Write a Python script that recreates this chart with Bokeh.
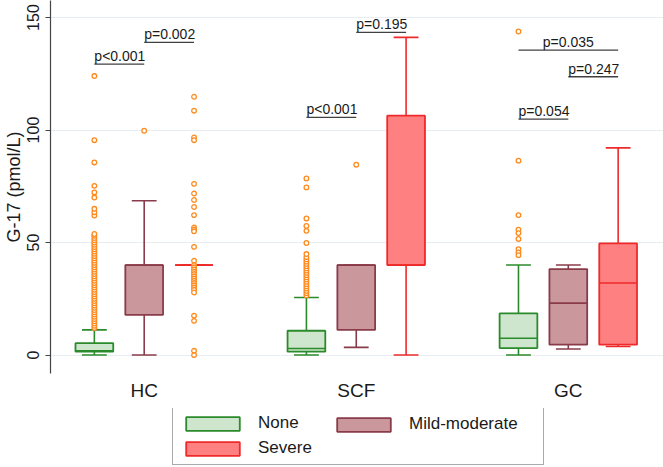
from bokeh.plotting import figure
from bokeh.layouts import column
from bokeh.models import Range1d, FixedTicker, Legend, LegendItem, ColumnDataSource
from bokeh.embed import file_html
from bokeh.resources import INLINE
from bokeh.core.properties import value

# ---------------- data ----------------
groups = ["HC", "SCF", "GC"]
levels = ["None", "Mild-moderate", "Severe"]

# box statistics per severity level, one value per group (HC, SCF, GC)
none_q1 = [1.5, 1.5, 3.1]
none_med = [1.9, 2.9, 7.5]
none_q3 = [5.3, 10.8, 18.5]
none_lo = [0.0, 0.0, 0.0]
none_hi = [11.2, 25.6, 40.0]

mild_q1 = [17.9, 11.2, 4.6]
mild_med = [40.0, 40.0, 23.1]
mild_q3 = [40.0, 40.0, 38.2]
mild_lo = [0.0, 3.4, 2.7]
mild_hi = [68.6, 40.0, 40.0]

sev_q1 = [40.0, 40.0, 4.6]
sev_med = [40.0, 40.0, 32.0]
sev_q3 = [40.0, 106.4, 49.6]
sev_lo = [40.0, 0.0, 3.8]
sev_hi = [40.0, 141.2, 92.1]

# outliers
hc_none_out = [12, 13, 14, 15, 16, 17, 18, 19, 20, 21, 22, 23, 24, 25, 26, 27, 28, 29, 30,
               31, 32, 33, 34, 35, 36, 37, 38, 39, 40, 41, 42, 43, 44, 45, 46, 47, 48, 49,
               50, 51, 52, 53, 53.8, 62, 63.5, 65, 70, 72.3, 75.2, 85.6, 95.5, 124]
hc_mild_out = [99.7]
hc_sev_out = [114.8, 108.6, 96.7, 95.5, 76.1, 71.8, 68.9, 65.8, 62.2, 56.7, 55.8, 55.0,
              48.1, 41.9, 40, 39, 38, 37, 36, 35, 34, 33, 32, 31, 30, 29, 27.8,
              17.5, 15.2, 1.9, 0.0]
scf_none_out = [26.5, 27.5, 28.5, 29.5, 30.5, 31.5, 32.5, 33.5, 34.5, 35.5, 36.5, 37.5,
                38.5, 39.5, 40.5, 41.5, 42.5, 43.5, 44.9, 49.8, 55.2, 57.4, 60.7, 74.5, 78.5]
scf_mild_out = [84.6]
gc_none_out = [143.8, 86.4, 62.2, 55.7, 54.2, 51.6, 47.1, 45.6, 44.4]

# p-value annotations
p_labels = ["p<0.001", "p=0.002", "p<0.001", "p=0.195", "p=0.054", "p=0.247", "p=0.035"]
p_group = [0, 0, 1, 1, 2, 2, 2]
p_from = [0, 1, 0, 1, 0, 1, 0]
p_to = [1, 2, 1, 2, 1, 2, 2]
p_y = [129.3, 139.0, 105.6, 143.4, 104.9, 123.7, 135.5]
p_align = ["left", "left", "left", "left", "left", "left", "center"]

# ---------------- styling ----------------
FONT = "Liberation Sans"
fills = ["#cde6cd", "#c9979c", "#ff8080"]
lines = ["#2b8a2b", "#8a3b4a", "#ee2a2a"]
OUT_COLOR = "#ff8a1e"
offsets = [-0.235, 0.0, 0.235]
BW = 0.178
CW = 0.117

stats = [
    (none_q1, none_med, none_q3, none_lo, none_hi),
    (mild_q1, mild_med, mild_q3, mild_lo, mild_hi),
    (sev_q1, sev_med, sev_q3, sev_lo, sev_hi),
]
outliers = {
    (0, 0): hc_none_out, (0, 1): hc_mild_out, (0, 2): hc_sev_out,
    (1, 0): scf_none_out, (1, 1): scf_mild_out, (2, 0): gc_none_out,
}

W = 663
H_MAIN = 408
H_LEG = 59
LEFT = 48
BOTTOM = 35
x0 = (LEFT - 142) / 212.75
x1 = (W - 142) / 212.75
y0 = -8.2
y1 = y0 + (H_MAIN - BOTTOM) / 2.25

p = figure(width=W, height=H_MAIN, output_backend="svg", toolbar_location=None,
           x_range=Range1d(x0, x1), y_range=Range1d(y0, y1),
           min_border_left=LEFT, min_border_right=0, min_border_top=0, min_border_bottom=BOTTOM)
p.outline_line_color = None
p.background_fill_color = "white"
p.border_fill_color = "white"

for li, (q1, med, q3, lo, hi) in enumerate(stats):
    xs = [g + offsets[li] for g in range(len(groups))]
    src = ColumnDataSource(dict(
        x=xs, xl=[x - BW / 2 for x in xs], xr=[x + BW / 2 for x in xs],
        cl=[x - CW / 2 for x in xs], cr=[x + CW / 2 for x in xs],
        q1=q1, med=med, q3=q3, lo=lo, hi=hi))
    p.segment(x0="x", y0="q3", x1="x", y1="hi", source=src, line_color=lines[li], line_width=1.6)
    p.segment(x0="x", y0="q1", x1="x", y1="lo", source=src, line_color=lines[li], line_width=1.6)
    p.vbar(x="x", width=BW, top="q3", bottom="q1", source=src,
           fill_color=fills[li], line_color=lines[li], line_width=1.8)
    p.segment(x0="xl", y0="med", x1="xr", y1="med", source=src, line_color=lines[li], line_width=1.6)
    p.segment(x0="cl", y0="hi", x1="cr", y1="hi", source=src, line_color=lines[li], line_width=1.6)
    p.segment(x0="cl", y0="lo", x1="cr", y1="lo", source=src, line_color=lines[li], line_width=1.6)

for (g, li), vals in outliers.items():
    p.scatter(x=[g + offsets[li]] * len(vals), y=vals, marker="circle", size=4.6,
              fill_color="white", line_color=OUT_COLOR, line_width=1.3)

# p-value lines and labels
seg_x0 = [g + offsets[a] for g, a in zip(p_group, p_from)]
seg_x1 = [g + offsets[b] for g, b in zip(p_group, p_to)]
txt_x = [(a + b) / 2 if al == "center" else a for a, b, al in zip(seg_x0, seg_x1, p_align)]
psrc = ColumnDataSource(dict(x0=seg_x0, x1=seg_x1, y=p_y, tx=txt_x, t=p_labels, al=p_align))
p.segment(x0="x0", y0="y", x1="x1", y1="y", source=psrc, line_color="#404040", line_width=1.3)
p.text(x="tx", y="y", text="t", source=psrc, text_align="al", text_baseline="bottom",
       text_font=value(FONT), text_font_size="14px", text_color="#1a1a1a")

# axes
p.yaxis.ticker = FixedTicker(ticks=[0, 50, 100, 150])
p.yaxis.axis_label = "G-17 (pmol/L)"
p.yaxis.axis_label_text_font = FONT
p.yaxis.axis_label_text_font_size = "18px"
p.yaxis.axis_label_text_font_style = "normal"
p.yaxis.axis_label_text_color = "#1a1a1a"
p.yaxis.axis_label_standoff = 1
p.yaxis.major_label_orientation = "vertical"
p.yaxis.major_label_text_font = FONT
p.yaxis.major_label_text_font_size = "16px"
p.yaxis.major_label_text_color = "#1a1a1a"
p.yaxis.major_label_standoff = 6
p.yaxis.major_tick_out = 5
p.yaxis.major_tick_in = 0
p.yaxis.minor_tick_line_color = None
p.yaxis.axis_line_color = "#444444"
p.yaxis.major_tick_line_color = "#444444"
p.yaxis.axis_line_width = 1.2

p.xaxis.ticker = FixedTicker(ticks=[0, 1, 2])
p.xaxis.major_label_overrides = {0: "HC", 1: "SCF", 2: "GC"}
p.xaxis.major_label_text_font = FONT
p.xaxis.major_label_text_font_size = "19px"
p.xaxis.major_label_text_color = "#1a1a1a"
p.xaxis.major_label_standoff = 0
p.xaxis.axis_line_color = None
p.xaxis.major_tick_line_color = None
p.xaxis.minor_tick_line_color = None

p.ygrid.ticker = FixedTicker(ticks=[0, 50, 100, 150])
p.ygrid.grid_line_color = "#e6eef3"
p.ygrid.grid_line_width = 1
p.xgrid.visible = False

# ---------------- legend (separate strip below the plot) ----------------
lg = figure(width=W, height=H_LEG, output_backend="svg", toolbar_location=None,
            x_range=Range1d(0, 1), y_range=Range1d(0, 1),
            min_border_left=LEFT, min_border_right=0, min_border_top=0, min_border_bottom=0)
lg.axis.visible = False
lg.grid.visible = False
lg.outline_line_color = None
lg.border_fill_color = "white"
lg_r = []
for li in range(3):
    # swatch renderers: zero-size marks hidden behind the framed legend box
    lg_r.append(lg.vbar(x=[0.5], width=0.0001, top=[0.5], bottom=[0.5],
                        fill_color=fills[li], line_color=lines[li], line_width=1.8))


def style_legend(leg):
    leg.glyph_width = 67
    leg.glyph_height = 17
    leg.label_standoff = 12
    leg.label_height = 20
    leg.spacing = 5
    leg.padding = 6
    leg.margin = 0
    leg.label_text_font = FONT
    leg.label_text_font_size = "17px"
    leg.label_text_color = "#1a1a1a"


# framed legend holding the first column (None, Severe), widened to the full box
leg_a = Legend(items=[LegendItem(label=levels[0], renderers=[lg_r[0]]),
                      LegendItem(label=levels[2], renderers=[lg_r[2]])],
               location=(170 - LEFT, 2))
style_legend(leg_a)
leg_a.label_width = 279
leg_a.border_line_color = "#555555"
leg_a.border_line_width = 1.5
leg_a.background_fill_color = "white"
leg_a.background_fill_alpha = 1

# second column (Mild-moderate), laid over the first row of the framed box
leg_b = Legend(items=[LegendItem(label=levels[1], renderers=[lg_r[1]])],
               location=(328 - LEFT, 33))
style_legend(leg_b)
leg_b.border_line_color = None
leg_b.background_fill_alpha = 0

lg.add_layout(leg_a)
lg.add_layout(leg_b)

open("out.html", "w").write(file_html(column(p, lg, spacing=0), INLINE))
